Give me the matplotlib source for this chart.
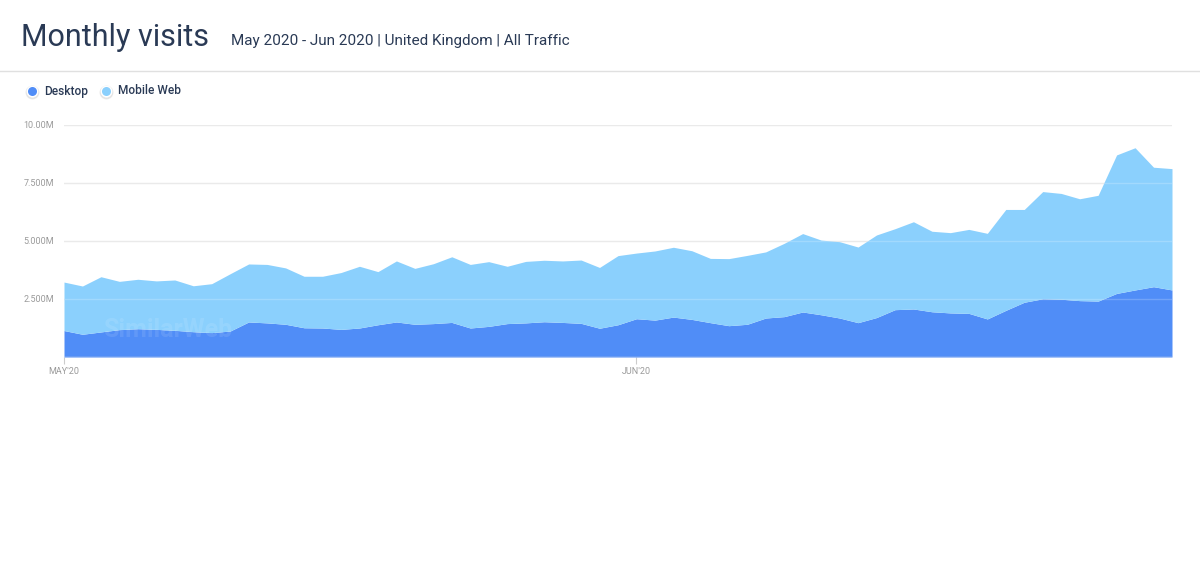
import matplotlib
matplotlib.use('Agg')
import matplotlib.pyplot as plt
import numpy as np

# daily visits, May 1 - Jun 30 2020, millions
days = np.arange(61)
desktop = [1.14, 0.98, 1.08, 1.18, 1.22, 1.19, 1.15, 1.09, 1.05, 1.12,
           1.51, 1.47, 1.41, 1.26, 1.25, 1.19, 1.25, 1.39, 1.51, 1.41,
           1.44, 1.49, 1.25, 1.32, 1.44, 1.47, 1.52, 1.49, 1.45, 1.24,
           1.39, 1.65, 1.59, 1.72, 1.62, 1.48, 1.35, 1.41, 1.68, 1.74,
           1.94, 1.82, 1.68, 1.48, 1.70, 2.04, 2.07, 1.95, 1.90, 1.88,
           1.64, 2.01, 2.36, 2.51, 2.49, 2.43, 2.41, 2.74, 2.89, 3.03,
           2.89]
mobile_web = [2.09, 2.08, 2.38, 2.08, 2.13, 2.09, 2.17, 1.98, 2.11, 2.47,
              2.50, 2.52, 2.43, 2.22, 2.23, 2.45, 2.66, 2.29, 2.63, 2.41,
              2.58, 2.83, 2.74, 2.79, 2.47, 2.65, 2.65, 2.65, 2.73, 2.62,
              2.98, 2.83, 2.98, 3.01, 2.96, 2.77, 2.89, 2.97, 2.85, 3.16,
              3.38, 3.22, 3.29, 3.26, 3.56, 3.49, 3.76, 3.47, 3.46, 3.62,
              3.69, 4.35, 4.00, 4.62, 4.56, 4.39, 4.56, 5.97, 6.13, 5.15,
              5.23]
y_ticks = [2.5, 5.0, 7.5, 10.0]
y_labels = ['2.500M', '5.000M', '7.500M', '10.00M']
x_ticks = [0, 31]
x_labels = ["MAY'20", "JUN'20"]

c_desk = '#508df7'
c_mob = '#8bd0fd'
navy = '#2a3a55'

plt.rcParams['font.family'] = ['Roboto', 'DejaVu Sans']

fig = plt.figure(figsize=(12, 5.63), dpi=100)
fig.patch.set_facecolor('white')

# header
fig.text(21/1200, 1 - 37/563, 'Monthly visits', fontsize=22, color=navy, va='center')
fig.text(231/1200, 1 - 41/563, 'May 2020 - Jun 2020 | United Kingdom | All Traffic',
         fontsize=11, color=navy, va='center')
fig.add_artist(plt.Line2D([0, 1], [1 - 71/563, 1 - 71/563], color='#e0e0e0', lw=1))

# legend
for x, label, c in [(32, 'Desktop', c_desk), (106, 'Mobile Web', c_mob)]:
    fig.add_artist(plt.Line2D([x/1200], [1 - 92/563], marker='o', ms=9, color='#dcdcdc',
                              alpha=0.6, lw=0))
    fig.add_artist(plt.Line2D([x/1200], [1 - 90.5/563], marker='o', ms=7.5, color=c,
                              markeredgecolor='white', markeredgewidth=1, lw=0))
    fig.text((x + 12)/1200, 1 - 94.5/563, label, fontsize=8.6, color=navy, va='baseline',
             fontweight='medium')

ax = fig.add_axes([64/1200, 1 - 357/563, (1172 - 64)/1200, (357 - 125)/563])
total = np.array(desktop) + np.array(mobile_web)
ax.fill_between(days, 0, desktop, color=c_desk, lw=0, zorder=2)
ax.fill_between(days, desktop, total, color=c_mob, lw=0, zorder=2)

for t in y_ticks:
    ax.axhline(t, color='#e6e6e6', lw=1, zorder=0)
    ax.axhline(t, color='white', lw=1, alpha=0.2, zorder=3)
ax.axhline(0, color='#dcdcdc', lw=1, zorder=4)

# faint watermark
ax.text(0.035, 0.115, 'SimilarWeb', transform=ax.transAxes, fontsize=18, fontweight='bold',
        color='white', alpha=0.1, va='center', ha='left', zorder=5)

ax.set_xlim(0, 60)
ax.set_ylim(0, 10)
ax.set_yticks(y_ticks)
ax.set_yticklabels(y_labels)
ax.set_xticks(x_ticks)
ax.set_xticklabels(x_labels)
ax.tick_params(axis='y', length=0, pad=7, labelsize=6.5, labelcolor='#9a9a9a')
ax.tick_params(axis='x', length=5, width=0.8, color='#cccccc', pad=2, labelsize=6.5,
               labelcolor='#9a9a9a')
for s in ax.spines.values():
    s.set_visible(False)

fig.savefig('out.png', dpi=100, facecolor='white')
